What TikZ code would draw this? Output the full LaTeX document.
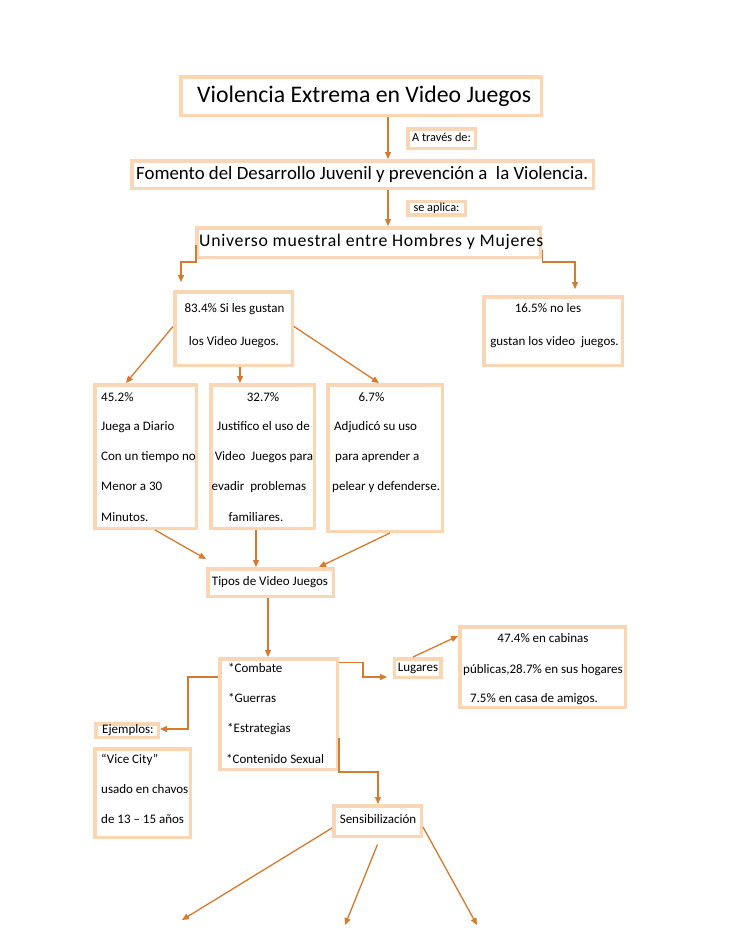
\documentclass[tikz,border=0pt]{standalone}
\usepackage{fontspec}
\setmainfont{Carlito}
\usepackage{graphicx}
\usetikzlibrary{arrows.meta}
\definecolor{peach}{RGB}{250,214,180}
\definecolor{arrc}{RGB}{214,122,44}
\newcommand{\bx}[5]{\node[box,minimum width=#4pt-3.5pt,minimum height=#5pt-3.5pt] (#1) at (#2,#3) {};}
\begin{document}
\begin{tikzpicture}[x=1pt,y=-1pt,
  box/.style={draw=peach,line width=3.5pt,inner sep=0pt,fill=white},
  arr/.style={draw=arrc,line width=1.3pt,-{Triangle[length=7pt,width=6pt]}},
  txt/.style={inner sep=0pt,font=\fontsize{13}{15}\selectfont,text height=9pt,text depth=3pt},
  lbl/.style={inner sep=0pt,font=\fontsize{12.3}{14}\selectfont,text height=9pt,text depth=3pt}]
\fill[white] (0,0) rectangle (728,942);
\useasboundingbox (0,0) rectangle (728,942);
% boxes
\bx{title}{361}{96}{364}{42}
\bx{traves}{441.5}{138.5}{71}{23}
\bx{fomento}{362.5}{174.5}{465}{31}
\bx{seaplica}{436.5}{208}{61}{17}
\bx{universo}{368.5}{242.5}{347}{33}
\bx{b834}{233.5}{328.5}{121}{77}
\bx{b165}{553}{331}{142}{72}
\bx{b452}{145.5}{456.5}{105}{147}
\bx{b327}{262.5}{456.5}{107}{147}
\bx{b67}{385}{458}{118}{150}
\bx{tipos}{270.5}{582.5}{129}{31}
\bx{combate}{278.5}{714}{121}{114}
\bx{lugares}{417.5}{668}{50}{22}
\bx{b474}{542.5}{667}{169}{84}
\bx{ejemplos}{127}{730.5}{66}{17}
\bx{vice}{142.5}{793}{99}{92}
\bx{sens}{377.5}{821}{91}{34}
% texts
\node[inner sep=0pt,anchor=west] (ttitle) at (197,96) {\resizebox{334pt}{!}{Violencia Extrema en Video Juegos}};
\node[lbl] (ttraves) at (441.5,138.5) {A través de:};
\node[inner sep=0pt,anchor=west] (tfomento) at (136,174.5) {\resizebox{452pt}{!}{Fomento del Desarrollo Juvenil y prevención a\ \ la Violencia.}};
\node[lbl] (tseaplica) at (436.5,208) {se aplica:};
\node[inner sep=0pt,anchor=west] (tuniverso) at (199,241.5) {\resizebox{344pt}{!}{\addfontfeature{LetterSpace=4}Universo muestral entre Hombres y Mujeres}};
\node[txt] (t834a) at (234.5,309.5) {83.4\% Si les gustan};
\node[txt] (t834b) at (234,342.5) {los Video Juegos.};
\node[txt] (t165a) at (548,309.5) {16.5\% no les};
\node[txt] (t165b) at (554.5,342.5) {gustan los video\ \ juegos.};
\node[txt,anchor=west] (t452a) at (101,398) {45.2\%};
\node[txt,anchor=west] (t452b) at (101,427) {Juega a Diario};
\node[txt,anchor=west] (t452c) at (101,457) {Con un tiempo no};
\node[txt,anchor=west] (t452d) at (101,487) {Menor a 30};
\node[txt,anchor=west] (t452e) at (101,518) {Minutos.};
\node[txt] (t327a) at (263,398) {32.7\%};
\node[txt] (t327b) at (263.5,427) {Justifico el uso de};
\node[txt] (t327c) at (264,457) {Video\ \ Juegos para};
\node[txt] (t327d) at (259,487) {evadir\ \ problemas};
\node[txt] (t327e) at (256,518) {familiares.};
\node[txt] (t67a) at (371.5,398) {6.7\%};
\node[txt,anchor=west] (t67b) at (334,427) {Adjudicó su uso};
\node[txt,anchor=west] (t67c) at (335,457) {para aprender a};
\node[txt,anchor=west] (t67d) at (332,487) {pelear y defenderse.};
\node[txt] (ttipos) at (270,582) {Tipos de Video Juegos};
\node[txt,anchor=west] (tc1) at (228,669) {*Combate};
\node[txt,anchor=west] (tc2) at (228,699) {*Guerras};
\node[txt,anchor=west] (tc3) at (227,729) {*Estrategias};
\node[txt,anchor=west] (tc4) at (226,760) {*Contenido Sexual};
\node[txt] (tlugares) at (418,668) {Lugares};
\node[txt] (t474a) at (543,639) {47.4\% en cabinas};
\node[txt] (t474b) at (543,670) {públicas,28.7\% en sus hogares};
\node[txt] (t474c) at (534,699) {7.5\% en casa de amigos.};
\node[txt,anchor=west] (tejemplos) at (102,730) {Ejemplos:};
\node[txt,anchor=west] (tv1) at (101,760) {“Vice City”};
\node[txt,anchor=west] (tv2) at (101,790) {usado en chavos};
\node[txt,anchor=west] (tv3) at (101,820) {de 13 – 15 años};
\node[txt] (tsens) at (378,820) {Sensibilización};
% coordinates
\coordinate (c388) at (388,0);
\coordinate (ulc) at (181,262);
\coordinate (ul) at (181,282);
\coordinate (urc) at (575,262);
\coordinate (ur) at (575,289);
\coordinate (c240) at (240,0);
\coordinate (tl) at (206,559);
\coordinate (c256) at (256,0);
\coordinate (c268) at (268,0);
\coordinate (lc1) at (363,677);
\coordinate (lt) at (387,677);
\coordinate (ec1) at (188,729);
\coordinate (sc1) at (378,772);
\coordinate (s1) at (182,920);
\coordinate (s2) at (345,925);
\coordinate (s3) at (477,925);
% connectors
\draw[arr] (title.south -| c388) -- (fomento.north -| c388);
\draw[arr] (fomento.south -| c388) -- (universo.north -| c388);
\draw[arr] ([xshift=1pt,yshift=14pt]universo.south west) |- (ulc) -- (ul);
\draw[arr] ([xshift=0.5pt,yshift=9.5pt]universo.south east) |- (urc) -- (ur);
\draw[arr] ([yshift=2pt]b834.west) -- ([xshift=-19.5pt]b452.north);
\draw[arr] (b834.south -| c240) -- (b327.north -| c240);
\draw[arr] ([yshift=2pt]b834.east) -- ([xshift=-6pt]b67.north);
\draw[arr] ([xshift=9.5pt]b452.south) -- (tl);
\draw[arr] (b327.south -| c256) -- (tipos.north -| c256);
\draw[arr] ([xshift=5pt]b67.south) -- ([xshift=48.5pt]tipos.north);
\draw[arr] (tipos.south -| c268) -- (combate.north -| c268);
\draw[arr] ([yshift=-5.5pt]combate.north east) -| (lc1) -- (lt);
\draw[arr] ([xshift=-4.5pt]lugares.north) -- ([yshift=31pt]b474.west);
\draw[arr] ([yshift=37pt]combate.west) -| (ec1) -- (ejemplos.east |- ec1);
\draw[arr] ([yshift=-24pt]combate.east) |- (sc1) -- (sens.north -| sc1);
\draw[arr] ([yshift=-7pt]sens.west) -- (s1);
\draw[arr] ([yshift=-6.5pt]sens.south) -- (s2);
\draw[arr] ([yshift=-6pt]sens.east) -- (s3);
\end{tikzpicture}
\end{document}
